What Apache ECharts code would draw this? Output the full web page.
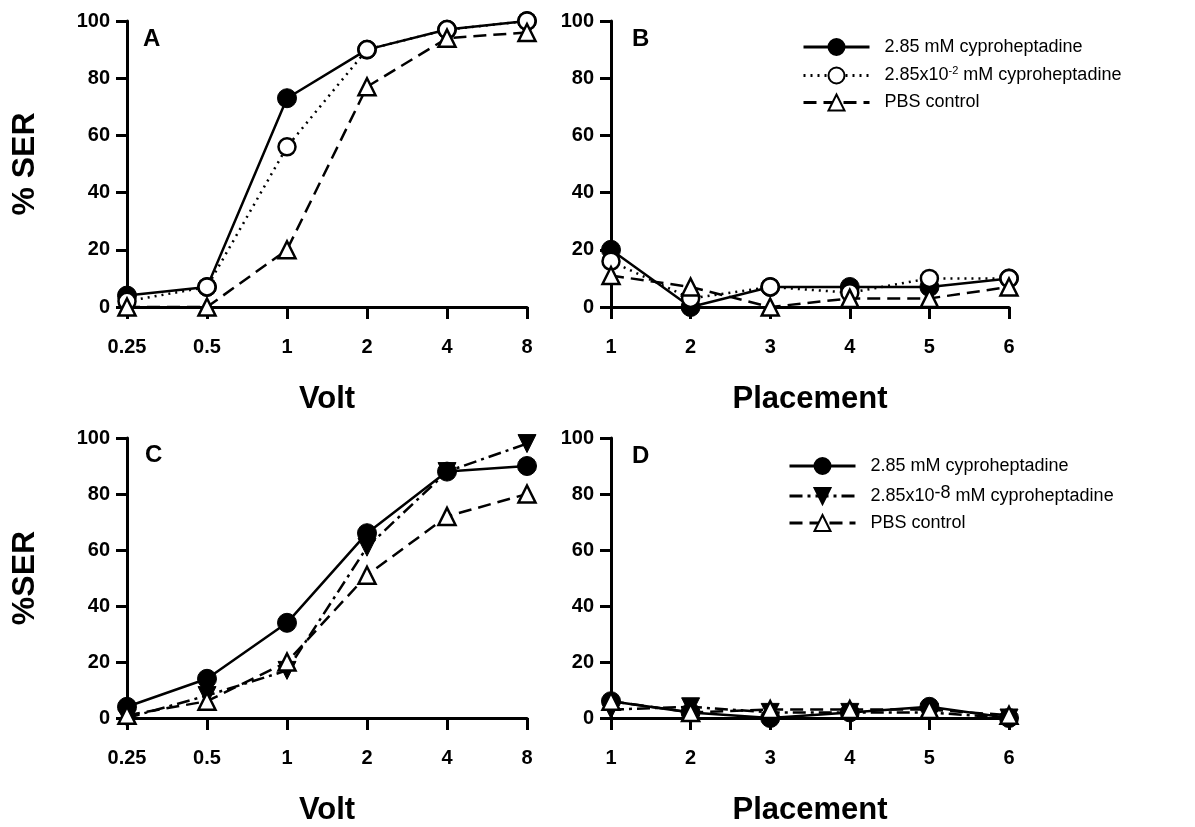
<!DOCTYPE html>
<html>
<head>
<meta charset="utf-8">
<script src="https://cdn.jsdelivr.net/npm/echarts@6/dist/echarts.min.js"></script>
<style>html,body{margin:0;padding:0;background:#fff;}#c{width:1195px;height:827px;}</style>
</head>
<body>
<div id="c"></div>
<script>
const volts = ['0.25', '0.5', '1', '2', '4', '8'];
const placements = ['1', '2', '3', '4', '5', '6'];
const yTicks = [0, 20, 40, 60, 80, 100];

const aHigh = [4, 7, 73, 90, 97, 100];
const aLow = [2, 7, 56, 90, 97, 100];
const aPbs = [0, 0, 20, 77, 94, 96];

const bHigh = [20, 0, 7, 7, 7, 10];
const bLow = [16, 3, 7, 5, 10, 10];
const bPbs = [11, 7, 0, 3, 3, 7];

const cHigh = [4, 14, 34, 66, 88, 90];
const cLow = [0, 8, 17, 61, 88, 98];
const cPbs = [1, 6, 20, 51, 72, 80];

const dHigh = [6, 2, 0, 2, 4, 0];
const dLow = [3, 4, 2, 2, 2, 0];
const dPbs = [6, 2, 3, 3, 3, 1];

const FONT = '"Liberation Sans", Arial, sans-serif';
const chart = echarts.init(document.getElementById('c'));

const grids = [
  {left: 127, top: 21, width: 400, height: 286},
  {left: 611, top: 21, width: 398, height: 286},
  {left: 127, top: 438, width: 400, height: 287},
  {left: 611, top: 438, width: 398, height: 287}
];

function xAxis(i, cats, name) {
  return {
    type: 'category', gridIndex: i, data: cats, boundaryGap: false,
    name: name, nameLocation: 'middle', nameGap: 77,
    nameTextStyle: {fontFamily: FONT, fontWeight: 'bold', fontSize: 31, color: '#000'},
    axisLine: {lineStyle: {color: '#000', width: 3}},
    axisTick: {length: 12, lineStyle: {color: '#000', width: 3}},
    axisLabel: {fontFamily: FONT, fontWeight: 'bold', fontSize: 20, color: '#000', margin: 30},
    splitLine: {show: false}
  };
}
function yAxis(i, name) {
  return {
    type: 'value', gridIndex: i, min: 0, max: 100, interval: 20,
    name: name, nameLocation: 'middle', nameGap: 86, nameRotate: 90,
    nameTextStyle: {fontFamily: FONT, fontWeight: 'bold', fontSize: 32, color: '#000'},
    axisLine: {show: true, lineStyle: {color: '#000', width: 3}},
    axisTick: {show: true, length: 11, lineStyle: {color: '#000', width: 3}},
    axisLabel: {fontFamily: FONT, fontWeight: 'bold', fontSize: 20, color: '#000', margin: 17,
      formatter: v => yTicks.includes(v) ? String(v) : ''},
    splitLine: {show: false}
  };
}

const styles = {
  filled: {symbol: 'circle', symbolSize: 19, itemStyle: {color: '#000', borderColor: '#000', borderWidth: 1},
    lineStyle: {color: '#000', width: 2.5, type: 'solid'}},
  open: {symbol: 'circle', symbolSize: 17, itemStyle: {color: '#fff', borderColor: '#000', borderWidth: 2.5},
    lineStyle: {color: '#000', width: 2.5, type: [2, 5]}},
  tri: {symbol: 'triangle', symbolSize: 17, itemStyle: {color: '#fff', borderColor: '#000', borderWidth: 2.5},
    lineStyle: {color: '#000', width: 2.5, type: [13, 7]}},
  down: {symbol: 'triangle', symbolRotate: 180, symbolSize: 18, itemStyle: {color: '#000', borderColor: '#000', borderWidth: 1},
    lineStyle: {color: '#000', width: 2.5, type: [13, 5, 3, 5]}}
};

function series(name, i, data, st) {
  return Object.assign({
    type: 'line', name: name, xAxisIndex: i, yAxisIndex: i, data: data,
    showSymbol: true, clip: false, animation: false
  }, JSON.parse(JSON.stringify(st)));
}

const nameMap = {
  a1: '{n|2.85 mM cyproheptadine}',
  a2: '{n|2.85x10}{s|-2}{n| mM cyproheptadine}',
  a3: '{n|PBS control}',
  c1: '{n|2.85 mM cyproheptadine}',
  c2: '{n|2.85x10}{t|-8}{n| mM cyproheptadine}',
  c3: '{n|PBS control}'
};
const rich = {
  n: {fontFamily: FONT, fontSize: 18, color: '#000', lineHeight: 21},
  s: {fontFamily: FONT, fontSize: 11, color: '#000', padding: [0, 0, 10, 0]},
  t: {fontFamily: FONT, fontSize: 18, color: '#000', padding: [0, 0, 6, 0]}
};

function legend(keys, left, top) {
  return {
    data: keys, orient: 'vertical', left: left, top: top,
    itemWidth: 66, itemHeight: 20, itemGap: 9,
    formatter: n => nameMap[n],
    lineStyle: {width: 3},
    textStyle: {fontFamily: FONT, fontSize: 18, color: '#000', rich: rich, padding: [0, 0, 0, 10]}
  };
}

function letter(t, x, y) {
  return {type: 'text', left: x, top: y, style: {text: t, font: 'bold 24px ' + FONT, fill: '#000'}};
}

chart.setOption({
  animation: false,
  grid: grids,
  xAxis: [xAxis(0, volts, 'Volt'), xAxis(1, placements, 'Placement'), xAxis(2, volts, 'Volt'), xAxis(3, placements, 'Placement')],
  yAxis: [yAxis(0, '% SER'), yAxis(1, ''), yAxis(2, '%SER'), yAxis(3, '')],
  legend: [legend(['a1', 'a2', 'a3'], 797, 33), legend(['c1', 'c2', 'c3'], 783, 452)],
  graphic: [letter('A', 143, 27), letter('B', 632, 27), letter('C', 145, 443), letter('D', 632, 444)],
  series: [
    series('a1', 0, aHigh, styles.filled),
    series('a2', 0, aLow, styles.open),
    series('a3', 0, aPbs, styles.tri),
    series('a1', 1, bHigh, styles.filled),
    series('a2', 1, bLow, styles.open),
    series('a3', 1, bPbs, styles.tri),
    series('c1', 2, cHigh, styles.filled),
    series('c2', 2, cLow, styles.down),
    series('c3', 2, cPbs, styles.tri),
    series('c1', 3, dHigh, styles.filled),
    series('c2', 3, dLow, styles.down),
    series('c3', 3, dPbs, styles.tri)
  ]
});
</script>
</body>
</html>
